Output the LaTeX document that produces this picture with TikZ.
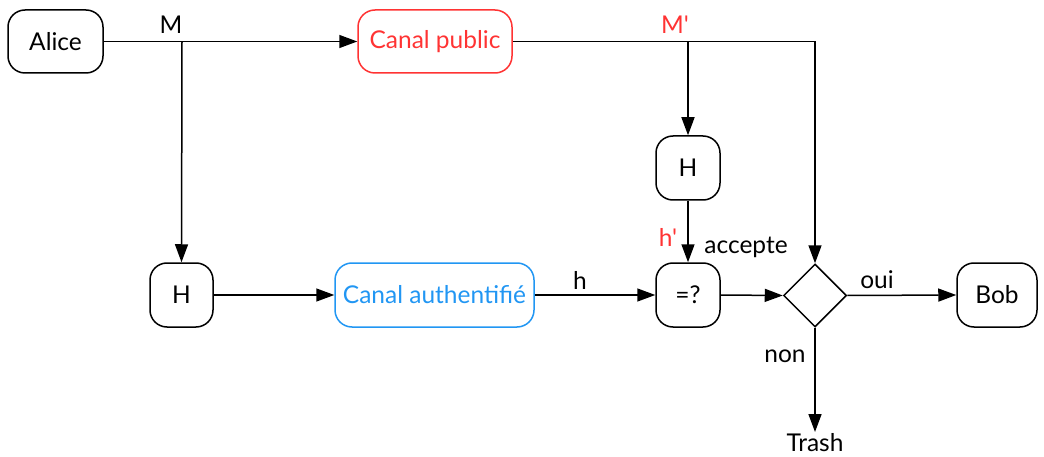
\documentclass[tikz,border=0pt]{standalone}
\usepackage{fontspec}
\setmainfont{Lato}[Ligatures=TeXOff]
\usetikzlibrary{shapes.geometric,arrows.meta}
\definecolor{pubred}{RGB}{255,51,51}
\definecolor{authblue}{RGB}{33,150,243}
\tikzset{
  box/.style={draw, line width=1.5pt, rounded corners=17pt, inner sep=0pt, align=center},
  arr/.style={line width=1.5pt, -{Triangle[length=18pt,width=13pt]}},
  lbl/.style={inner sep=0pt},
}
\begin{document}
\begin{tikzpicture}[x=1pt,y=-1pt,font=\fontsize{24.5}{29}\selectfont]
\useasboundingbox (0,0) rectangle (1044,457);
% nodes
\node[box, minimum width=95pt, minimum height=63pt] (alice) at (55.5,41.5) {Alice};
\node[box, draw=pubred, text=pubred, minimum width=154pt, minimum height=63pt] (cp) at (435,41.5) {Canal public};
\node[box, minimum width=64pt, minimum height=64pt] (h2) at (688,168) {H};
\node[box, minimum width=64pt, minimum height=64pt] (eq) at (688,295) {=?};
\node[box, minimum width=63pt, minimum height=64pt] (h1) at (181.5,295) {H};
\node[box, draw=authblue, text=authblue, minimum width=199pt, minimum height=64pt] (ca) at (434.5,295) {Canal authentifié};
\node[diamond, draw, line width=1.5pt, minimum width=63pt, minimum height=63pt, inner sep=0pt] (dia) at (815,295.5) {};
\node[box, minimum width=80pt, minimum height=64pt] (bob) at (997,295) {Bob};
\node[lbl, anchor=north, inner sep=1.5pt] (trash) at (815,432) {Trash};
% coordinates
\coordinate (m) at (182,41.5);
\coordinate (mp) at (688,41.5);
\coordinate (corner) at (815,41.5);
% connectors
\draw[arr] (alice.east) -- (cp.west);
\draw[arr] (m) -- (h1.north);
\draw[arr] (cp.east) -- (corner) -- (dia.north);
\draw[arr] (mp) -- (h2.north);
\draw[arr] (h2.south) -- (eq.north);
\draw[arr] (h1.east) -- (ca.west);
\draw[arr] (ca.east) -- (eq.west);
\draw[arr] (eq.east) -- (dia.west);
\draw[arr] (dia.east) -- (bob.west);
\draw[arr] (dia.south) -- (trash.north);
% labels
\node[lbl] (lm) at (171,25) {M};
\node[lbl, text=pubred] (lmp) at (675,25) {M'};
\node[lbl, text=pubred] (lhp) at (668,237) {h'};
\node[lbl] (lacc) at (746,247) {accepte};
\node[lbl] (lh) at (580,280) {h};
\node[lbl] (loui) at (877,280) {oui};
\node[lbl] (lnon) at (785,356) {non};
\end{tikzpicture}
\end{document}
